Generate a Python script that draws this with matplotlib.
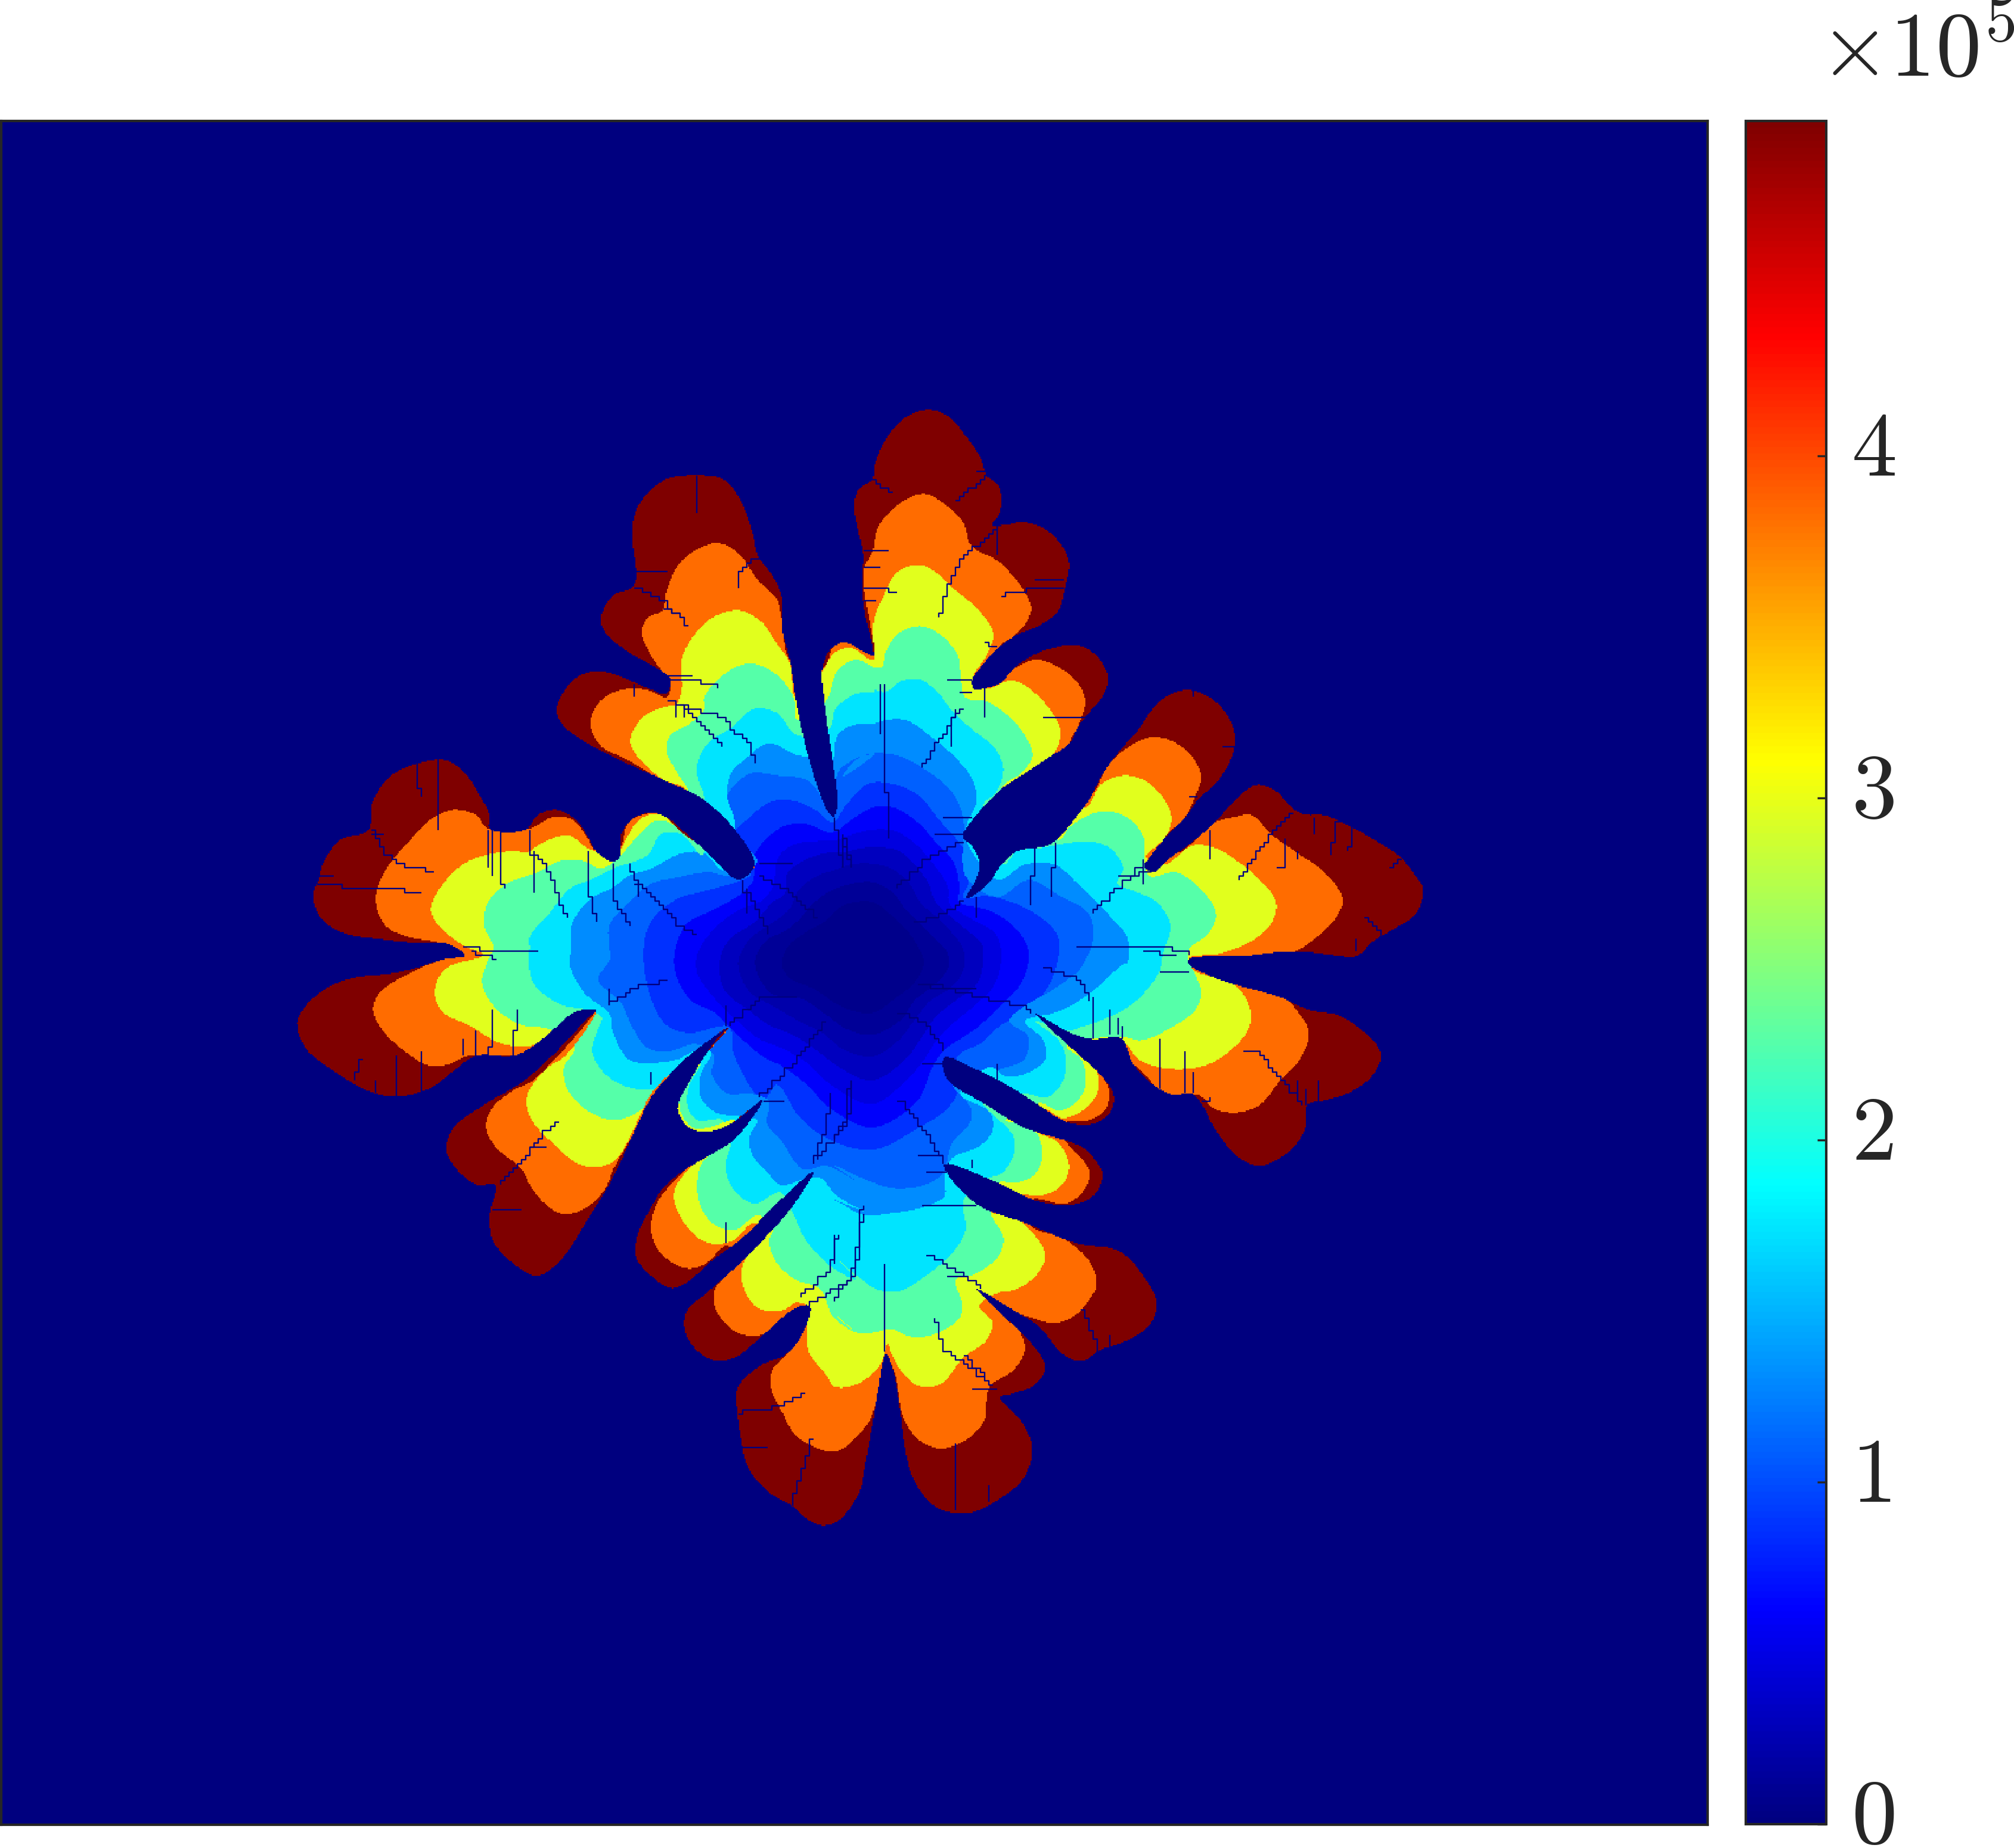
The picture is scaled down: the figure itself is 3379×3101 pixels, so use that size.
import numpy as np
import matplotlib
matplotlib.use("Agg")
import matplotlib.pyplot as plt
from matplotlib.colors import LinearSegmentedColormap
from matplotlib.path import Path
from matplotlib.transforms import ScaledTranslation

plt.rcParams["mathtext.fontset"] = "cm"

TL, TR, BL, BR = (480, 660), (1400, 660), (480, 1580), (1400, 1580)
CROP_SCALE = 1.568
CORE = (1180, 1300)
CORE_SCALE = 3.0

LEVEL_VALUES = [4.98e5, 3.82e5, 2.96e5, 2.28e5, 1.74e5, 1.31e5, 1.09e5]
CORE_VALUES = [0.86e5, 0.62e5, 0.47e5, 0.33e5, 0.22e5, 0.13e5, 0.06e5]
COLORBAR_TICKS = [0, 1e5, 2e5, 3e5, 4e5]
COLORBAR_LABELS = ["$0$", "$1$", "$2$", "$3$", "$4$"]

RED_TR = [(103,690),(95,640),(80,580),(72,500),(75,420),(60,350),(52,290),(65,250),(100,225),(105,190),(135,120),(190,60),(250,42),(300,60),(345,110),(385,170),(400,215),(430,240),(440,280),(432,320),(415,345),(450,345),(500,338),(560,360),(605,410),(618,450),(605,520),(590,570),(540,610),(480,635),(430,670),(385,720),(362,755),(368,778),(400,775),(440,760),(470,725),(520,690),(580,668),(640,662),(690,690),(720,745),(710,790),(670,840),(640,880),(620,920),(560,960),(500,1000),(440,1040),(390,1090),(350,1140),(338,1165),(365,1195),(382,1240),(372,1280),(345,1330),(400,1295),(440,1240),(480,1205),(560,1190),(590,1170),(640,1110),(670,1070),(690,1030),(720,980),(760,930),(800,885),(830,840),(870,800),(925,780),(980,795),(1030,840),(1055,905),(1040,970),(1000,1030),(960,1065),(920,1120),(870,1170),(830,1220),(815,1245),(840,1260),(880,1225),(930,1190),(1000,1130),(1050,1075),(1110,1030),(1160,1045),(1210,1095),(1240,1108),(1290,1110),(1360,1140),(1430,1180),(1490,1220),(1530,1270),(1550,1305),(1530,1370),(1480,1405),(1420,1440),(1375,1480),(1310,1478),(1250,1470),(1170,1470),(1080,1480),(1000,1480),(930,1490)]
RED_BR = [(935,62),(1000,95),(1070,118),(1170,145),(1250,180),(1330,195),(1390,235),(1430,275),(1438,310),(1410,360),(1350,400),(1290,418),(1245,430),(1240,490),(1200,550),(1120,590),(1060,565),(1000,490),(965,425),(940,400),(890,403),(830,370),(785,320),(755,255),(680,257),(620,240),(530,190),(640,295),(700,350),(735,405),(725,450),(680,480),(630,480),(590,465),(530,425),(450,375),(370,335),(290,305),(295,360),(400,430),(500,490),(650,540),(690,580),(705,610),(690,660),(640,690),(540,685),(430,635),(290,585),(300,615),(380,695),(500,740),(640,795),(750,815),(820,890),(848,950),(830,1010),(760,1055),(700,1075),(650,1105),(600,1085),(540,1015),(470,970),(375,915),(460,1000),(520,1060),(555,1120),(530,1165),(470,1190),(435,1200),(490,1260),(520,1330),(500,1410),(430,1470),(350,1505),(270,1490),(210,1420),(185,1330),(175,1250),(155,1130),(135,1085),(115,1180),(100,1270),(80,1380),(65,1450),(10,1525)]
RED_BL = [(1410,1537),(1370,1520),(1330,1485),(1270,1450),(1215,1385),(1195,1300),(1185,1200),(1190,1170),(1250,1115),(1310,1090),(1355,1040),(1378,960),(1340,965),(1250,1040),(1190,1090),(1140,1105),(1090,1085),(1050,1030),(1055,970),(1100,930),(1180,860),(1250,790),(1330,700),(1388,605),(1290,690),(1200,780),(1120,840),(1050,900),(1010,912),(960,880),(920,830),(925,770),(960,700),(990,650),(1050,600),(1110,565),(1180,520),(1255,415),(1170,480),(1110,500),(1060,490),(1030,440),(1060,370),(1130,260),(1165,225),(1060,300),(1000,360),(960,410),(920,490),(860,620),(800,720),(720,840),(660,880),(600,850),(545,790),(535,720),(550,640),(500,640),(440,590),(420,545),(440,490),(520,430),(620,370),(700,300),(790,205),(815,180),(760,185),(670,260),(600,300),(500,300),(440,340),(380,385),(290,408),(220,395),(130,345),(50,280),(28,215),(50,170),(110,120),(180,95),(270,85),(340,70),(420,45),(470,38)]
RED_TL = [(430,1450),(330,1445),(240,1435),(150,1420),(90,1380),(70,1320),(85,1280),(95,1240),(140,1175),(215,1150),(225,1080),(270,1010),(340,975),(420,965),(470,1000),(510,1060),(535,1110),(535,1145),(630,1148),(660,1110),(710,1095),(760,1120),(790,1160),(815,1205),(860,1232),(880,1215),(880,1165),(910,1120),(960,1103),(1000,1115),(1060,1165),(1120,1220),(1190,1280),(1232,1240),(1190,1160),(1100,1070),(1000,1020),(900,975),(800,925),(730,875),(710,830),(760,750),(820,730),(880,745),(950,775),(1000,790),(1010,750),(970,720),(900,680),(840,630),(828,590),(860,530),(915,505),(910,350),(935,280),(1000,225),(1080,215),(1150,225),(1195,280),(1230,380),(1240,425),(1280,480),(1305,540),(1305,620),(1325,700),(1340,800),(1360,900),(1390,1010),(1425,1100),(1440,1115),(1450,1080),(1440,980),(1425,880),(1415,800),(1410,730),(1430,675),(1470,655),(1520,680),(1543,690)]

ORANGE_TR = [(75,470),(100,415),(115,350),(170,290),(235,263),(290,290),(340,340),(360,400),(430,440),(470,480),(500,520),(518,565),(500,610),(470,640),(430,670),(400,770),(470,725),(530,700),(590,720),(640,760),(660,810),(640,880),(620,920),(670,1060),(720,980),(760,940),(830,905),(890,915),(945,960),(965,1010),(950,1060),(920,1120),(870,1170),(900,1210),(1000,1130),(1050,1115),(1100,1110),(1150,1160),(1220,1210),(1290,1260),(1338,1330),(1320,1380),(1270,1430),(1210,1470),(1100,1485),(930,1495)]
ORANGE_BR = [(1060,105),(1175,140),(1220,185),(1250,240),(1225,310),(1170,370),(1120,430),(1060,450),(1000,440),(960,405),(880,410),(780,320),(690,330),(720,380),(715,440),(670,470),(610,475),(610,525),(670,600),(660,650),(610,690),(520,680),(520,750),(600,780),(670,840),(690,905),(665,950),(640,980),(580,1005),(500,985),(440,980),(490,1030),(500,1080),(470,1130),(410,1170),(400,1210),(395,1260),(350,1310),(280,1335),(220,1310),(180,1250),(160,1140),(135,1090),(110,1210),(90,1265),(30,1330),(0,1343)]
ORANGE_BL = [(1400,1335),(1340,1300),(1305,1240),(1275,1175),(1280,1125),(1310,1095),(1370,1000),(1330,980),(1270,1030),(1200,1035),(1150,1000),(1125,950),(1130,910),(1180,850),(1160,800),(1100,850),(1050,860),(985,820),(960,760),(975,690),(1040,610),(1180,500),(1255,415),(1120,510),(1040,510),(1010,440),(1050,360),(1165,225),(1000,360),(900,530),(860,600),(840,650),(790,700),(730,718),(680,690),(640,640),(620,600),(550,540),(525,490),(540,440),(600,390),(650,365),(815,180),(700,270),(600,300),(480,300),(420,325),(370,325),(300,280),(250,230),(228,180),(245,135),(330,80),(420,45),(470,38)]
ORANGE_TL = [(400,1445),(320,1430),(260,1400),(235,1340),(240,1300),(270,1240),(330,1170),(380,1120),(440,1095),(500,1110),(530,1145),(640,1145),(700,1115),(750,1120),(790,1165),(810,1200),(860,1220),(880,1195),(900,1130),(950,1105),(990,1110),(1060,1170),(1232,1250),(1000,1030),(890,960),(830,930),(800,870),(825,810),(880,780),(950,780),(1000,800),(1010,770),(960,690),(935,630),(950,590),(990,570),(1000,520),(1040,440),(1130,393),(1190,420),(1240,490),(1290,540),(1305,600),(1325,700),(1415,720),(1440,665),(1480,655),(1530,685),(1546,690)]

YELLOW_TR = [(100,650),(105,590),(130,530),(165,470),(225,450),(280,480),(310,510),(370,560),(410,610),(418,640),(400,690),(365,750),(400,775),(470,755),(530,790),(580,850),(595,890),(580,945),(530,990),(660,1090),(700,1030),(760,1005),(820,1020),(870,1070),(888,1120),(870,1170),(820,1220),(870,1240),(940,1190),(1000,1195),(1060,1230),(1120,1280),(1163,1340),(1150,1395),(1100,1440),(1010,1475),(935,1485)]
YELLOW_BR = [(945,75),(1000,95),(1060,120),(1095,180),(1090,230),(1050,280),(980,325),(880,335),(800,310),(760,265),(650,290),(690,340),(695,390),(660,440),(600,465),(550,440),(520,490),(590,530),(618,590),(600,640),(540,670),(480,665),(410,710),(480,730),(540,790),(555,830),(530,880),(480,915),(430,925),(380,960),(415,1000),(400,1050),(340,1095),(280,1165),(220,1170),(175,1130),(150,1085),(140,1060),(120,1115),(60,1165),(0,1172)]
YELLOW_BL = [(1420,1140),(1375,1080),(1370,1000),(1372,960),(1340,950),(1310,970),(1240,965),(1200,900),(1205,840),(1260,770),(1230,740),(1170,790),(1100,790),(1040,730),(1020,660),(1090,565),(1255,415),(1120,510),(1040,510),(1010,440),(1050,360),(1165,225),(1040,320),(960,400),(930,460),(860,580),(780,590),(700,530),(640,460),(635,400),(690,330),(735,300),(815,180),(740,210),(660,270),(570,270),(480,220),(410,185),(390,130),(420,70),(520,35)]
YELLOW_TL = [(470,1455),(400,1400),(380,1355),(420,1280),(480,1230),(580,1205),(640,1205),(660,1190),(740,1162),(790,1195),(815,1205),(860,1232),(885,1190),(930,1120),(985,1108),(1060,1165),(1232,1250),(1050,1040),(990,1015),(920,950),(905,910),(940,850),(1005,822),(1025,820),(1040,780),(1040,700),(1070,640),(1120,590),(1190,570),(1250,600),(1285,650),(1325,710),(1340,800),(1410,730),(1445,680),(1490,670),(1535,700),(1546,700)]

GREEN_TR = [(125,720),(135,680),(170,630),(225,612),(280,635),(325,690),(332,740),(345,800),(400,810),(470,860),(515,925),(520,960),(490,1000),(440,1040),(590,1175),(620,1140),(700,1100),(770,1115),(815,1170),(815,1220),(830,1270),(900,1260),(970,1310),(1005,1370),(985,1420),(930,1470)]
GREEN_BR = [(965,130),(950,180),(880,230),(810,260),(750,250),(610,275),(650,310),(662,370),(640,420),(590,445),(540,425),(450,470),(520,490),(548,550),(530,610),(480,635),(430,635),(410,710),(445,780),(430,830),(370,875),(320,890),(335,950),(330,990),(260,1035),(200,1040),(150,1020),(100,1030),(60,1030),(0,980)]
GREEN_BL = [(1500,1030),(1440,990),(1405,915),(1340,890),(1290,845),(1270,790),(1280,755),(1240,720),(1180,760),(1120,740),(1085,680),(1090,590),(1130,545),(1180,470),(1110,490),(1070,490),(1040,455),(1035,410),(1060,370),(1090,310),(1000,360),(950,430),(870,470),(800,450),(740,390),(730,330),(760,280),(690,230),(620,220),(550,175),(515,110),(530,50),(545,15)]
GREEN_TL = [(520,1400),(530,1340),(580,1290),(660,1260),(720,1230),(780,1230),(830,1250),(880,1215),(920,1170),(970,1125),(1010,1130),(1060,1165),(1060,1050),(1030,1000),(1000,940),(1010,900),(1060,870),(1100,830),(1100,800),(1150,740),(1220,710),(1290,740),(1335,800),(1345,860),(1420,810),(1450,730),(1500,700),(1546,720)]

CYAN_TR = [(103,780),(135,785),(175,757),(225,752),(275,790),(310,835),(370,890),(420,930),(445,990),(425,1050),(390,1085),(445,1240),(480,1205),(550,1195),(600,1185),(680,1180),(730,1200),(760,1250),(745,1290),(790,1310),(850,1340),(885,1400),(865,1473)]
CYAN_BR = [(855,80),(790,160),(720,200),(650,225),(610,235),(530,210),(590,260),(610,310),(600,370),(560,410),(500,400),(390,420),(470,510),(472,560),(440,610),(400,625),(340,680),(345,760),(310,820),(240,880),(170,920),(110,915),(60,880),(0,830)]
CYAN_BL = [(1500,890),(1440,860),(1370,790),(1335,720),(1300,660),(1230,690),(1175,650),(1155,590),(1170,530),(1150,470),(1080,470),(1055,430),(1060,380),(1090,320),(1040,340),(980,385),(905,385),(840,350),(805,290),(820,230),(830,200),(790,180),(720,165),(650,110),(638,50),(640,15)]
CYAN_TL = [(640,1430),(690,1370),(750,1300),(800,1280),(860,1250),(950,1215),(985,1160),(1040,1160),(1095,1215),(1100,1060),(1085,1020),(1080,980),(1110,920),(1170,880),(1230,830),(1290,840),(1345,900),(1430,880),(1445,830),(1500,790),(1546,785)]

LIGHT_TR = [(103,870),(130,860),(190,860),(250,900),(310,950),(360,1010),(375,1070),(350,1130),(345,1170),(430,1280),(500,1240),(580,1240),(640,1290),(680,1330),(720,1370),(770,1430),(770,1500)]
LIGHT_BR = [(760,60),(680,130),(620,170),(570,190),(520,200),(500,210),(550,260),(555,310),(510,345),(450,355),(410,330),(330,400),(410,450),(415,500),(380,540),(310,570),(290,620),(290,670),(230,700),(150,715),(75,720),(20,690),(0,680)]
LIGHT_BL = [(1520,710),(1450,670),(1400,620),(1300,640),(1260,600),(1225,560),(1220,510),(1240,470),(1190,460),(1130,450),(1090,410),(1090,350),(1120,290),(1070,290),(1030,310),(950,320),(900,310),(860,240),(850,190),(800,150),(780,130),(745,60),(750,15)]
LIGHT_TL = [(750,1400),(800,1330),(860,1300),(900,1270),(960,1250),(1040,1210),(1100,1210),(1150,1255),(1180,1130),(1160,1060),(1170,1000),(1210,960),(1270,920),(1340,950),(1420,960),(1440,960),(1450,900),(1500,870),(1546,870)]

MID_TR = [(20,1010),(70,955),(155,950),(240,990),(310,1050),(340,1120),(345,1270),(430,1325),(510,1280),(590,1320),(670,1370),(680,1440),(650,1510)]
MID_BR = [(640,80),(570,130),(500,170),(460,210),(510,250),(500,310),(440,335),(310,370),(360,440),(355,480),(310,530),(285,610),(240,640),(160,650),(90,630),(0,590)]
MID_BL = [(1500,630),(1420,590),(1360,600),(1300,520),(1265,480),(1270,420),(1220,400),(1160,400),(1120,350),(1125,300),(1080,270),(1000,290),(950,280),(910,225),(880,160),(820,100),(850,50),(850,15)]
MID_TL = [(850,1400),(900,1340),(960,1290),(1020,1275),(1110,1260),(1180,1270),(1240,1230),(1170,1160),(1160,1060),(1220,1000),(1290,1005),(1375,1020),(1440,1110),(1450,1000),(1500,960),(1546,950)]

CORE_086 = [(225,220),(340,135),(450,130),(570,180),(650,240),(720,150),(830,45),(950,45),(1080,100),(1190,230),(1280,330),(1340,430),(1340,530),(1310,620),(1430,610),(1640,680),(1780,800),(1790,900),(1740,1060),(1620,1200),(1500,1260),(1400,1350),(1280,1420),(1300,1550),(1230,1680),(1080,1780),(850,1890),(620,1830),(480,1720),(370,1560),(300,1640),(150,1400),(130,1270),(-72,1300),(-187,1260),(-264,1127),(-302,892),(-264,739),(-130,624),(4,586),(196,529),(240,500),(140,430),(150,300)]
CORE_062 = [(310,330),(400,260),(510,245),(650,290),(740,230),(850,165),(960,165),(1080,240),(1180,350),(1260,440),(1290,560),(1290,640),(1430,680),(1560,760),(1640,892),(1600,1050),(1500,1160),(1370,1280),(1210,1390),(1150,1480),(1080,1640),(851,1777),(640,1680),(520,1560),(400,1470),(300,1420),(150,1290),(60,1200),(-70,1130),(-149,950),(-91,758),(43,682),(190,600),(250,530),(260,400)]
CORE_047 = [(380,410),(460,350),(560,335),(660,330),(750,300),(860,275),(970,285),(1070,350),(1160,450),(1230,560),(1240,650),(1340,720),(1470,800),(1500,900),(1470,1050),(1380,1150),(1260,1250),(1180,1330),(1100,1450),(1000,1560),(850,1660),(640,1560),(520,1450),(400,1380),(280,1330),(170,1240),(60,1130),(-30,1000),(-30,900),(60,770),(180,680),(300,630),(350,560)]
CORE_033 = [(420,500),(510,430),(610,395),(700,390),(790,370),(880,365),(980,380),(1060,450),(1130,540),(1170,640),(1300,760),(1400,850),(1410,930),(1380,1050),(1280,1130),(1170,1220),(1100,1320),(1020,1430),(850,1540),(680,1470),(560,1380),(450,1310),(330,1260),(220,1180),(110,1090),(80,950),(130,830),(260,740),(350,640),(410,600)]
CORE_022 = [(480,580),(570,510),(660,480),(750,450),(870,450),(960,480),(1040,550),(1090,640),(1200,740),(1310,880),(1310,980),(1250,1070),(1140,1140),(1060,1240),(980,1340),(850,1420),(700,1380),(600,1300),(480,1240),(360,1170),(230,1090),(175,950),(230,830),(340,750),(430,680)]
CORE_013 = [(540,660),(630,590),(740,550),(850,540),(950,590),(1020,680),(1130,790),(1230,900),(1230,980),(1160,1060),(1060,1140),(1000,1230),(850,1310),(720,1280),(620,1210),(500,1130),(340,1100),(260,950),(310,840),(420,780),(490,720)]
CORE_006 = [(610,740),(700,660),(850,640),(960,720),(1060,830),(1110,950),(1060,1050),(960,1130),(850,1200),(700,1170),(560,1080),(430,1020),(395,950),(430,860),(520,790)]

CRACKS_TL = [[(1082,215),(1082,320)],[(915,467),(1005,467)],[(1195,515),(1195,470),(1210,445),(1240,430)],[(915,510),(960,530),(990,550),(1015,575),(1060,615)],[(990,570),(1040,578)],[(1005,745),(1070,745)],[(1005,755),(1095,760),(1135,772)],[(1000,805),(1060,830),(1140,850),(1190,900),(1220,930),(1235,975)],[(1040,820),(1100,880),(1145,930)],[(1020,820),(1020,855)],[(1045,820),(1045,858)],[(918,770),(918,795)],[(345,970),(345,1040),(352,1060)],[(395,965),(398,1145)],[(225,1150),(260,1210),(305,1240),(390,1260)],[(225,1160),(262,1160)],[(85,1295),(280,1305),(355,1312)],[(85,1273),(120,1273)],[(528,1150),(530,1250)],[(548,1150),(548,1270)],[(567,1150),(570,1305)],[(640,1150),(655,1310)],[(650,1200),(700,1280),(725,1360),(742,1380)],[(798,1200),(798,1315),(815,1390)],[(858,1235),(865,1340),(900,1400)],[(900,1240),(930,1320)],[(920,1290),(990,1350),(1030,1400),(1085,1425)],[(1200,1285),(1215,1365)],[(1250,1270),(1330,1320),(1400,1385)],[(1210,1300),(1240,1370),(1270,1425)],[(1240,1237),(1330,1237)],[(470,1460),(660,1472)],[(490,1470),(555,1490)],[(1440,1120),(1465,1245)],[(1470,1170),(1488,1245)]]
CRACKS_TR = [[(75,412),(145,415)],[(75,512),(160,520)],[(75,455),(122,457)],[(75,550),(105,550)],[(95,230),(155,260)],[(315,280),(370,240),(405,210)],[(368,205),(405,205)],[(275,590),(300,500),(340,420),(380,395),(435,345)],[(433,345),(433,425)],[(435,530),(500,518),(605,512)],[(530,492),(605,492)],[(395,658),(430,668)],[(300,757),(365,755)],[(400,778),(400,855)],[(130,770),(140,1170)],[(122,770),(125,900)],[(330,790),(365,790)],[(335,830),(230,985)],[(315,835),(307,935)],[(548,857),(665,857)],[(928,1065),(958,1065)],[(1020,935),(1050,935)],[(940,780),(940,800)],[(985,1145),(987,1230)],[(1210,1100),(1145,1170),(1065,1285)],[(1165,1245),(1190,1245),(1190,1170)],[(1260,1115),(1260,1165)],[(1325,1120),(1305,1220)],[(1360,1140),(1355,1205)],[(1455,1250),(1490,1222)],[(1395,1378),(1442,1430)],[(1372,1440),(1375,1470)],[(1220,1205),(1220,1230)],[(525,1195),(518,1350)],[(580,1180),(572,1330)],[(812,1245),(680,1370)],[(745,1270),(830,1262)],[(808,1230),(815,1295)],[(640,1458),(865,1458),(935,1475)],[(860,1525),(935,1520)],[(814,1470),(900,1480)],[(345,1180),(260,1215),(170,1300)],[(290,1115),(365,1118)],[(260,1160),(340,1160)],[(345,1332),(300,1370),(210,1395)],[(370,1330),(370,1385)],[(220,1560),(370,1565)],[(18,1170),(45,1250)],[(20,1160),(20,1250)]]
CRACKS_BR = [[(1075,290),(1115,295),(1170,360),(1230,430)],[(1215,360),(1218,410)],[(1237,388),(1237,430)],[(1272,360),(1272,415)],[(860,260),(858,390)],[(923,290),(927,395)],[(943,340),(943,395)],[(965,425),(990,410)],[(720,175),(725,250)],[(742,200),(745,250)],[(760,225),(755,255)],[(676,150),(676,255)],[(545,70),(635,95),(675,155)],[(235,110),(340,135),(390,150),(490,170),(520,190)],[(165,185),(240,220),(290,290)],[(430,320),(428,365)],[(235,320),(290,325)],[(165,415),(210,460),(260,545),(290,585)],[(225,565),(280,567)],[(240,610),(300,610)],[(235,693),(378,693)],[(360,570),(360,598)],[(240,822),(340,880),(380,915)],[(295,882),(340,885)],[(137,845),(137,1080)],[(75,715),(65,790),(45,880),(0,945)],[(5,770),(0,850)],[(265,995),(290,1075),(350,1120),(415,1170)],[(360,1180),(430,1180)],[(335,1085),(400,1150)],[(652,965),(695,1075)],[(722,1035),(722,1070)],[(318,1320),(316,1495)],[(402,1435),(410,1470)],[(40,370),(35,460),(0,520)]]
CRACKS_BL = [[(1005,105),(940,115),(850,165)],[(850,125),(848,165)],[(1340,145),(1250,150),(1170,220)],[(1158,165),(1158,220)],[(1420,215),(1340,320),(1250,410)],[(1260,420),(1310,425)],[(1485,370),(1480,480),(1400,570)],[(1435,395),(1420,500),(1385,590)],[(1515,690),(1500,880),(1380,958)],[(1450,770),(1435,860),(1360,935)],[(1157,740),(1157,790)],[(718,475),(660,525),(620,590),(560,635)],[(645,545),(690,545)],[(540,702),(615,702)],[(548,175),(535,300)],[(610,175),(597,295)],[(462,255),(462,300)],[(500,230),(500,300)],[(360,290),(355,395)],[(295,295),(295,405)],[(200,305),(180,370)],[(237,362),(237,395)],[(958,340),(965,375)],[(1365,1190),(1300,1225),(1190,1240)],[(1200,1330),(1272,1330)],[(1385,1305),(1360,1400),(1330,1480)]]


def to_px(points, origin, scale=CROP_SCALE):
    pts = np.asarray(points, dtype=float)
    return pts / scale + np.asarray(origin)


def outline(tr, br, bl, tl):
    return np.vstack([to_px(tr, TR), to_px(br, BR), to_px(bl, BL), to_px(tl, TL)])


def rounded(poly, n=6):
    """Closed centripetal Catmull-Rom through the read points."""
    p0, p1, p2, p3 = np.roll(poly, 1, 0), poly, np.roll(poly, -1, 0), np.roll(poly, -2, 0)
    t1 = np.linalg.norm(p1 - p0, axis=1, keepdims=True) ** 0.5 + 1e-6
    t2 = t1 + np.linalg.norm(p2 - p1, axis=1, keepdims=True) ** 0.5 + 1e-6
    t3 = t2 + np.linalg.norm(p3 - p2, axis=1, keepdims=True) ** 0.5 + 1e-6
    out = []
    for u in np.linspace(0, 1, n, endpoint=False):
        t = t1 + u * (t2 - t1)
        a1 = (t1 - t) / t1 * p0 + t / t1 * p1
        a2 = (t2 - t) / (t2 - t1) * p1 + (t - t1) / (t2 - t1) * p2
        a3 = (t3 - t) / (t3 - t2) * p2 + (t - t2) / (t3 - t2) * p3
        b1 = (t2 - t) / t2 * a1 + t / t2 * a2
        b2 = (t3 - t) / (t3 - t1) * a2 + (t - t1) / (t3 - t1) * a3
        out.append((t2 - t) / (t2 - t1) * b1 + (t - t1) / (t2 - t1) * b2)
    return np.stack(out, axis=1).reshape(-1, 2)


def stairs(pts, step=7.0):
    """Cracks follow the grid, so walk each one in small steps."""
    dense = [pts[0]]
    for a, b in zip(pts[:-1], pts[1:]):
        count = max(int(np.linalg.norm(b - a) / step), 1)
        for i in range(1, count + 1):
            dense.append(a + (b - a) * i / count)
    return np.round(np.array(dense) / step) * step


LEFT, RIGHT, TOP, BOTTOM = 2, 2865, 203, 3062
FIG_W, FIG_H = 3380, 3101

outlines = [
    outline(RED_TR, RED_BR, RED_BL, RED_TL),
    outline(ORANGE_TR, ORANGE_BR, ORANGE_BL, ORANGE_TL),
    outline(YELLOW_TR, YELLOW_BR, YELLOW_BL, YELLOW_TL),
    outline(GREEN_TR, GREEN_BR, GREEN_BL, GREEN_TL),
    outline(CYAN_TR, CYAN_BR, CYAN_BL, CYAN_TL),
    outline(LIGHT_TR, LIGHT_BR, LIGHT_BL, LIGHT_TL),
    outline(MID_TR, MID_BR, MID_BL, MID_TL),
]
for ring in [CORE_086, CORE_062, CORE_047, CORE_033, CORE_022, CORE_013, CORE_006]:
    outlines.append(to_px(ring, CORE, CORE_SCALE))
values = LEVEL_VALUES + CORE_VALUES

# arrival field on a grid of about 2.2 picture pixels
xs = np.linspace(LEFT, RIGHT, 1300)
ys = np.linspace(TOP, BOTTOM, 1300)
gx, gy = np.meshgrid(xs, ys)
grid = np.column_stack([gx.ravel(), gy.ravel()])
field = np.zeros(grid.shape[0])
inside = np.ones(grid.shape[0], dtype=bool)
for poly, value in zip(outlines, values):
    idx = np.flatnonzero(inside)
    hit = Path(rounded(poly)).contains_points(grid[idx])
    inside = np.zeros_like(inside)
    inside[idx[hit]] = True
    field[inside] = value
field = field.reshape(gx.shape)

# MATLAB's jet, which has its corners at eighths
jet = LinearSegmentedColormap.from_list("matlab_jet", [
    (0, (0, 0, 0.5)), (0.125, (0, 0, 1)), (0.375, (0, 1, 1)),
    (0.625, (1, 1, 0)), (0.875, (1, 0, 0)), (1, (0.5, 0, 0))], N=256)

INK = "#262626"
fig = plt.figure(figsize=(FIG_W / 100, FIG_H / 100), dpi=100)
ax = fig.add_axes([LEFT / FIG_W, 1 - BOTTOM / FIG_H, (RIGHT - LEFT) / FIG_W, (BOTTOM - TOP) / FIG_H])
im = ax.imshow(field, cmap=jet, vmin=0, vmax=4.98e5, extent=(LEFT, RIGHT, BOTTOM, TOP),
               interpolation="nearest", aspect="auto")
for cracks, origin in [(CRACKS_TL, TL), (CRACKS_TR, TR), (CRACKS_BR, BR), (CRACKS_BL, BL)]:
    for crack in cracks:
        pts = stairs(to_px(crack, origin))
        ax.plot(pts[:, 0], pts[:, 1], color="#00007f", lw=1.7, solid_capstyle="butt",
                drawstyle="steps-post")
ax.set_xlim(LEFT, RIGHT)
ax.set_ylim(BOTTOM, TOP)
ax.set_xticks([])
ax.set_yticks([])
for spine in ax.spines.values():
    spine.set_color(INK)
    spine.set_linewidth(3)

cax = fig.add_axes([2929 / FIG_W, 1 - 3061 / FIG_H, (3064 - 2929) / FIG_W, (3061 - 203) / FIG_H])
cb = fig.colorbar(im, cax=cax)
cb.set_ticks(COLORBAR_TICKS, labels=COLORBAR_LABELS)
cb.ax.tick_params(direction="in", length=11, width=2.5, color=INK, labelcolor=INK, labelsize=110, pad=30)
cb.outline.set_edgecolor(INK)
cb.outline.set_linewidth(3)
lift = ScaledTranslation(0, 26 / 100, fig.dpi_scale_trans)
for tick in cb.ax.yaxis.get_major_ticks():
    tick.label2.set_transform(tick.label2.get_transform() + lift)
fig.text(3052 / FIG_W, 1 - 128 / FIG_H, r"$\times 10^{5}$", fontsize=110, color=INK, ha="left", va="baseline")

fig.savefig("out.png", dpi=100)
